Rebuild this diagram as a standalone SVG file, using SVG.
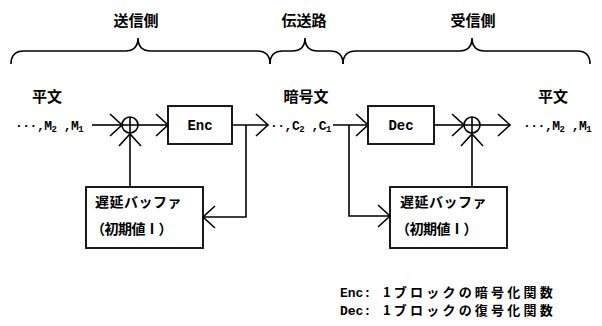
<svg xmlns="http://www.w3.org/2000/svg" width="602" height="326" viewBox="0 0 602 326">
<style>
.ln{fill:none;stroke:#000;stroke-width:1.6}
.box{fill:#fff;stroke:#000;stroke-width:1.8}
.jp{font-family:"Noto Sans CJK JP","Noto Sans CJK SC",sans-serif;font-weight:bold;fill:#000}
.lat{font-family:"Liberation Mono","Noto Sans CJK JP",monospace;font-weight:bold;fill:#000}
</style>
<defs>
<marker id="ah" markerUnits="userSpaceOnUse" markerWidth="16" markerHeight="26" refX="13" refY="13" orient="auto">
<path d="M1,2 L13,13 L1,24" fill="none" stroke="#000" stroke-width="1.6"/>
</marker>
</defs>
<rect width="602" height="326" fill="#fff"/>

<g id="braces" class="ln">
<path d="M11 64 Q11 51 24 51 L125 51 Q138 51 138 38 Q138 51 151 51 L257 51 Q270 51 270 64"/>
<path d="M270 64 Q270 51 283 51 L292 51 Q305 51 305 38 Q305 51 318 51 L330 51 Q343 51 343 64"/>
<path d="M343 64 Q343 51 356 51 L459 51 Q472 51 472 38 Q472 51 485 51 L577 51 Q590 51 590 64"/>
</g>
<g id="headings" class="jp" font-size="15" text-anchor="middle">
<text x="136" y="26">送信側</text>
<text x="304" y="26">伝送路</text>
<text x="473" y="26">受信側</text>
<text x="47" y="102">平文</text>
<text x="306" y="102">暗号文</text>
<text x="553" y="102">平文</text>
</g>

<g id="plain-in">
<text class="lat" x="15" y="130" font-size="13" letter-spacing="-0.5">···,M<tspan font-size="9" dy="2">2</tspan><tspan dy="-2"> ,M</tspan><tspan font-size="9" dy="2">1</tspan></text>
</g>
<g id="xor-enc">
<circle cx="130" cy="125" r="8" class="ln"/>
<path d="M122 125 H138 M130 117 V133" class="ln"/>
</g>
<g id="enc">
<rect x="168" y="106" width="64" height="38" class="box"/>
<text class="lat" x="200" y="130" font-size="14" text-anchor="middle">Enc</text>
</g>
<g id="buffer-enc">
<rect x="86" y="187" width="117" height="61" class="box"/>
<text class="jp" x="95" y="207" font-size="14" letter-spacing="0.5">遅延バッファ</text>
<text class="jp" x="91" y="234" font-size="14" letter-spacing="-0.5">（初期値Ⅰ）</text>
</g>
<g id="cipher">
<text class="lat" x="270" y="130" font-size="13" letter-spacing="-0.5">··,C<tspan font-size="9" dy="2">2</tspan><tspan dy="-2"> ,C</tspan><tspan font-size="9" dy="2">1</tspan></text>
</g>
<g id="dec">
<rect x="368" y="106" width="66" height="38" class="box"/>
<text class="lat" x="401" y="130" font-size="14" text-anchor="middle">Dec</text>
</g>
<g id="xor-dec">
<circle cx="472" cy="125" r="8" class="ln"/>
<path d="M464 125 H480 M472 117 V133" class="ln"/>
</g>
<g id="buffer-dec">
<rect x="390" y="187" width="117" height="61" class="box"/>
<text class="jp" x="400" y="207" font-size="14" letter-spacing="0.5">遅延バッファ</text>
<text class="jp" x="396" y="234" font-size="14" letter-spacing="-0.5">（初期値Ⅰ）</text>
</g>
<g id="plain-out">
<text class="lat" x="523" y="130" font-size="13" letter-spacing="-0.5">···,M<tspan font-size="9" dy="2">2</tspan><tspan dy="-2"> ,M</tspan><tspan font-size="9" dy="2">1</tspan></text>
</g>

<g id="connectors" class="ln">
<path d="M92 125 H122" marker-end="url(#ah)"/>
<path d="M138 125 H168" marker-end="url(#ah)"/>
<path d="M232 125 H268" marker-end="url(#ah)"/>
<path d="M246 125 V217 H203" marker-end="url(#ah)"/>
<path d="M130 187 V134" marker-end="url(#ah)"/>
<path d="M333 125 H368" marker-end="url(#ah)"/>
<path d="M349 125 V216 H390" marker-end="url(#ah)"/>
<path d="M434 125 H464" marker-end="url(#ah)"/>
<path d="M472 187 V134" marker-end="url(#ah)"/>
<path d="M480 125 H510" marker-end="url(#ah)"/>
</g>

<g id="legend">
<text class="lat" x="340" y="297" font-size="13">Enc:</text>
<text class="jp" x="383" y="297" font-size="13" letter-spacing="3.2">1ブロックの暗号化関数</text>
<text class="lat" x="340" y="315" font-size="13">Dec:</text>
<text class="jp" x="383" y="315" font-size="13" letter-spacing="3.2">1ブロックの復号化関数</text>
</g>
</svg>
